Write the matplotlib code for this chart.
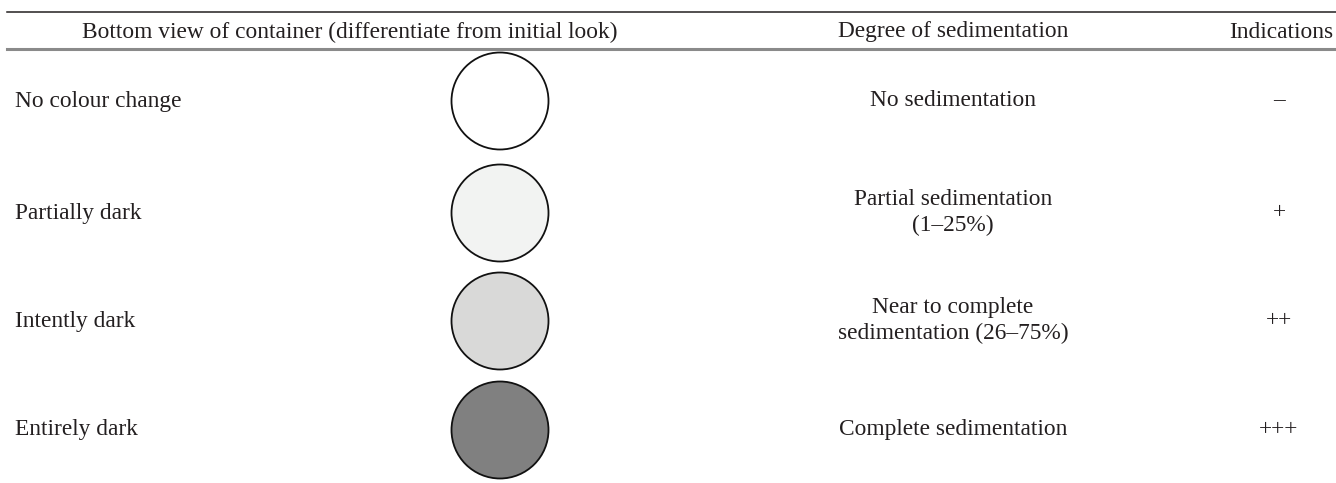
import matplotlib.pyplot as plt
from matplotlib.patches import Circle

W, H = 1336, 483
DPI = 100

headers = ["Bottom view of container (differentiate from initial look)",
           "Degree of sedimentation", "Indications"]
looks = ["No colour change", "Partially dark", "Intently dark", "Entirely dark"]
fills = ["#ffffff", "#f2f3f2", "#d9d9d8", "#808080"]
degrees = ["No sedimentation", "Partial sedimentation\n(1\u201325%)",
           "Near to complete\nsedimentation (26\u201375%)", "Complete sedimentation"]
indications = ["\u2013", "+", "++", "+++"]

row_y = [101, 213, 321, 430]

plt.rcParams["font.family"] = ["Liberation Serif", "DejaVu Serif"]
fig = plt.figure(figsize=(W / DPI, H / DPI), dpi=DPI)
ax = fig.add_axes([0, 0, 1, 1])
ax.set_xlim(0, W)
ax.set_ylim(H, 0)
ax.axis("off")

fs = 16.8
tc = "#231f20"

ax.plot([7, W], [12, 12], color="#231f20", lw=1.1)
ax.plot([7, W], [49, 49], color="#8a8a8a", lw=2.2)

ax.text(350, 32, headers[0], ha="center", va="center", fontsize=fs, color=tc)
ax.text(953, 32, headers[1], ha="center", va="center", fontsize=fs, color=tc)
ax.text(1333, 32, headers[2], ha="right", va="center", fontsize=fs, color=tc)

for y, look, fc, deg, ind in zip(row_y, looks, fills, degrees, indications):
    ax.text(15, y, look, ha="left", va="center", fontsize=fs, color=tc)
    ax.add_patch(Circle((500, y), 48.5, facecolor=fc, edgecolor="#111111", lw=1.3))
    ax.text(953, y, deg, ha="center", va="center", fontsize=fs, color=tc,
            linespacing=1.3, multialignment="center")
    ax.text(1279, y, ind, ha="center", va="center", fontsize=fs, color=tc)

fig.savefig("out.png", dpi=DPI)
